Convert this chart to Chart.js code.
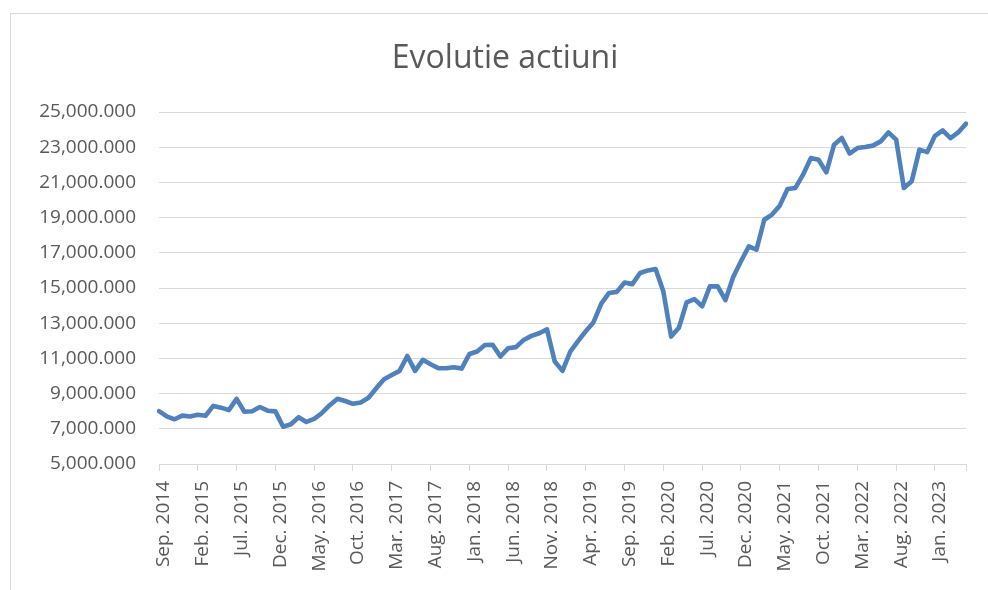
<!DOCTYPE html>
<html>
<head>
<meta charset="utf-8">
<title>Evolutie actiuni</title>
<script src="https://cdn.jsdelivr.net/npm/chart.js@4.4.1/dist/chart.umd.min.js"></script>
<style>
  html, body { margin: 0; padding: 0; background: #fff; overflow: hidden; }
  #frame { position: absolute; left: 10px; top: 13px; width: 1000px; height: 600px; border: 1px solid #d9d9d9; }
  #myChart { position: absolute; left: 0; top: 0; }
</style>
</head>
<body>
<div id="frame"></div>
<canvas id="myChart" width="988" height="590"></canvas>
<script>
'use strict';

// DATE

const titleText = 'Evolutie actiuni';
const monthNames = ['Jan', 'Feb', 'Mar', 'Apr', 'May', 'Jun', 'Jul', 'Aug', 'Sep', 'Oct', 'Nov', 'Dec'];
const startMonth = 8;   // Sep.
const startYear = 2014;

// valori lunare, Sep. 2014 - May. 2023
const values = [
  8000, 7710, 7540, 7750, 7700, 7800, 7740, 8300, 8200, 8060,
  8700, 7970, 8000, 8240, 8030, 7990, 7120, 7260, 7660, 7390,
  7560, 7900, 8340, 8710, 8580, 8420, 8500, 8760, 9300, 9820,
  10060, 10290, 11140, 10290, 10920, 10670, 10450, 10440, 10500, 10420,
  11250, 11390, 11760, 11770, 11110, 11580, 11640, 12050, 12280, 12430,
  12650, 10820, 10290, 11380, 11980, 12540, 13060, 14110, 14720, 14780,
  15310, 15220, 15850, 16000, 16080, 14800, 12240, 12740, 14180, 14370,
  13960, 15100, 15090, 14310, 15630, 16520, 17360, 17180, 18880, 19170,
  19680, 20620, 20680, 21440, 22380, 22290, 21570, 23140, 23520, 22640,
  22950, 23010, 23090, 23330, 23840, 23430, 20680, 21060, 22860, 22720,
  23650, 23960, 23520, 23840, 24340
];

const yMin = 5000;
const yMax = 25000;
const yStep = 2000;
const labelEvery = 5;

// etichete categorii
const categories = [];
for (let i = 0; i < values.length; i++) {
  const m = (startMonth + i) % 12;
  const y = startYear + Math.floor((startMonth + i) / 12);
  categories.push(monthNames[m] + '. ' + y);
}

//GRAFIC

const gray = '#595959';
const gridGray = '#d9d9d9';

// titlul centrat pe tot chenarul, ca in Excel
const titlePlugin = {
  id: 'titlu',
  afterDraw: function(chart) {
    const c = chart.ctx;
    c.save();
    c.font = '32px "Open Sans"';
    c.fillStyle = gray;
    c.textAlign = 'center';
    c.textBaseline = 'alphabetic';
    c.fillText(titleText, 505, 68);
    c.restore();
  }
};

const ctx = document.getElementById('myChart').getContext('2d');

const chart = new Chart(ctx, {
  type: 'line',
  data: {
    labels: categories,
    datasets: [{
      label: titleText,
      data: values,
      borderColor: '#4f81bd',
      backgroundColor: '#4f81bd',
      borderWidth: 4.6,
      pointRadius: 0,
      tension: 0,
      borderJoinStyle: 'round',
      borderCapStyle: 'round',
    }]
  },
  plugins: [titlePlugin],
  options: {
    responsive: false,
    animation: false,
    events: [],
    layout: { padding: { left: 0, right: 22, top: 112, bottom: 0 } },
    plugins: {
      legend: { display: false },
      tooltip: { enabled: false },
      title: { display: false }
    },
    scales: {
      x: {
        offset: false,
        grid: {
          drawOnChartArea: false,
          drawTicks: true,
          tickLength: 7,
          color: function(c) {
            return (c.index % labelEvery === 0 || c.index === values.length - 1) ? gridGray : 'rgba(0,0,0,0)';
          },
        },
        border: { display: true, color: gridGray, width: 1 },
        ticks: {
          autoSkip: false,
          maxRotation: 90,
          minRotation: 90,
          padding: 10,
          labelOffset: 5,
          color: gray,
          font: { family: '"Open Sans"', size: 19 },
          callback: function(val, index) {
            return index % labelEvery === 0 ? this.getLabelForValue(val) : '';
          }
        },
        afterFit: function(scale) {
          scale.height = 126;
          scale.paddingLeft = 0;
          scale.paddingRight = 0;
        }
      },
      y: {
        min: yMin,
        max: yMax,
        grid: { color: gridGray, lineWidth: 1, drawTicks: false },
        border: { display: false },
        ticks: {
          stepSize: yStep,
          padding: 23,
          color: gray,
          font: { family: '"Open Sans"', size: 19 },
          callback: function(v) {
            return v.toLocaleString('en-US', { minimumFractionDigits: 3, maximumFractionDigits: 3 });
          }
        },
        afterFit: function(scale) { scale.width = 159; }
      }
    }
  }
});
</script>
</body>
</html>
